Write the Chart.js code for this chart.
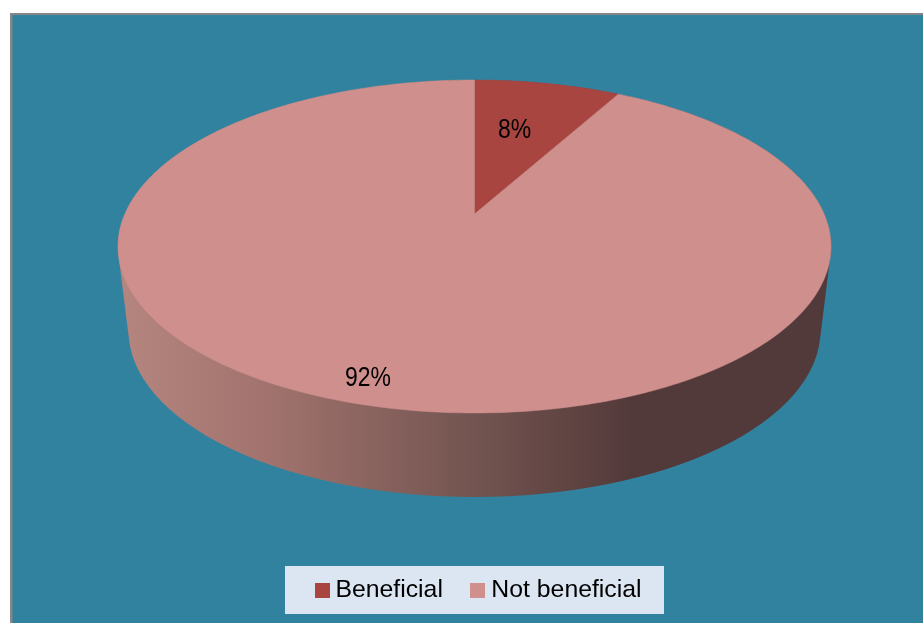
<!DOCTYPE html>
<html><head><meta charset="utf-8">
<style>html,body{margin:0;padding:0;background:#fff;overflow:hidden}canvas{display:block}</style>
<script src="https://cdn.jsdelivr.net/npm/chart.js@4"></script>
</head><body><canvas id="c" width="923" height="623"></canvas>
<script>
const categories = ['Beneficial', 'Not beneficial'];
const shares = [8, 92];
const shareLabels = ['8%', '92%'];
const sliceColors = ['#A84541', '#CE8F8D'];
const labelAnchors = [[514.5, 130.5], [368, 379]];

const FONT = '"Liberation Sans", Arial, sans-serif';
const LABEL_FONT = '27px "Liberation Sans", sans-serif';
const labelNarrow = 0.85;
const area = {left: 118, right: 831, top: 80, bottom: 413};
const legendBox = {left: 285, right: 664, top: 566, bottom: 614};
const legendStartX = 304, legendCenterY = 590.5, legendPadding = 34;
const apexLift = 32.5, aspect = 356.5 / 166.5;
const wallRim = {cy: 330.5, rx: 346, ry: 166.5};

// Perspective view of the pie's disc: (u, v) on the unit disc, v pointing away.
function project(el, u, v) {
  const R = el.outerRadius, top = el.y - R, bottom = el.y + R, apex = el.y - apexLift;
  const k = ((bottom - apex) - (apex - top)) / (bottom - top);
  const s = apex - top * (1 + k);
  const a = R * aspect * Math.sqrt(1 - k * k);
  const d = 1 + k * v;
  return [el.x + a * u / d, (apex - s * v) / d];
}

const marker = c => {
  const cv = document.createElement('canvas');
  cv.width = cv.height = 15;
  const x = cv.getContext('2d');
  x.fillStyle = c; x.fillRect(0, 0, 15, 15);
  return cv;
};

const pie3d = {
  id: 'pie3d',
  beforeDraw(chart) {
    const {ctx} = chart;
    ctx.save();
    ctx.fillStyle = '#868686'; ctx.fillRect(10, 13, 913, 610);
    ctx.fillStyle = '#31829E'; ctx.fillRect(12.5, 15, 911, 608);
    ctx.fillStyle = '#DCE6F2';
    ctx.fillRect(legendBox.left, legendBox.top, legendBox.right - legendBox.left, legendBox.bottom - legendBox.top);
    ctx.restore();
  },
  afterLayout(chart) {
    Object.assign(chart.chartArea, area, {width: area.right - area.left, height: area.bottom - area.top});
    const lg = chart.legend, lw = lg.lineWidths[0], size = lg.options.labels.font.size;
    lg.left = legendStartX - 20;
    lg.right = legendStartX + lw + 20;
    lg.top = legendCenterY - size * 0.5 - legendPadding;
    lg.bottom = lg.top + 100;
  },
  beforeDatasetDraw(chart, args) {
    const {ctx} = chart;
    const els = args.meta.data;
    const el0 = els[0];
    const R = el0.outerRadius, rx0 = R * aspect;
    ctx.save();
    const g = ctx.createLinearGradient(118, 0, 831, 0);
    g.addColorStop(0, '#B5857F');
    g.addColorStop(0.2, '#A3746F');
    g.addColorStop(0.5, '#735450');
    g.addColorStop(0.72, '#533A3A');
    g.addColorStop(1, '#533A3A');
    ctx.fillStyle = g;
    ctx.beginPath();
    const steps = 60;
    for (let i = 0; i <= steps; i++) {
      const t = i / steps;
      const cy = el0.y + (wallRim.cy - el0.y) * t;
      const rx = rx0 + (wallRim.rx - rx0) * t;
      const ry = R + (wallRim.ry - R) * t;
      ctx.moveTo(el0.x + rx, cy);
      ctx.ellipse(el0.x, cy, rx, ry, 0, 0, Math.PI * 2);
    }
    ctx.fill();
    els.forEach(el => {
      const p = el.getProps(['startAngle', 'endAngle']);
      const a0 = p.startAngle, a1 = p.endAngle, n = 360 * (a1 - a0) / (2 * Math.PI) + 2 | 0;
      ctx.beginPath();
      const c = project(el, 0, 0);
      ctx.moveTo(c[0], c[1]);
      for (let j = 0; j <= n; j++) {
        const a = a0 + (a1 - a0) * j / n;
        const q = project(el, Math.cos(a), -Math.sin(a));
        ctx.lineTo(q[0], q[1]);
      }
      ctx.closePath();
      ctx.fillStyle = el.options.backgroundColor;
      ctx.fill();
      ctx.strokeStyle = el.options.backgroundColor;
      ctx.lineWidth = 0.5;
      ctx.stroke();
    });
    ctx.restore();
    return false;
  },
  afterDatasetsDraw(chart) {
    const {ctx} = chart;
    ctx.fillStyle = '#000';
    ctx.font = LABEL_FONT;
    ctx.textAlign = 'center';
    ctx.textBaseline = 'middle';
    shareLabels.forEach((t, i) => {
      ctx.save();
      ctx.translate(labelAnchors[i][0], labelAnchors[i][1]);
      ctx.scale(labelNarrow, 1);
      ctx.fillText(t, 0, 0);
      ctx.restore();
    });
  }
};

new Chart(document.getElementById('c'), {
  type: 'pie',
  data: {labels: categories, datasets: [{data: shares, backgroundColor: sliceColors, borderWidth: 0}]},
  plugins: [pie3d],
  options: {
    responsive: false, animation: false, devicePixelRatio: 1,
    plugins: {
      tooltip: {enabled: false},
      legend: {
        position: 'bottom',
        labels: {
          color: '#000', font: {family: FONT, size: 24.8},
          usePointStyle: true, boxWidth: 2, boxHeight: 15, padding: legendPadding,
          generateLabels: () => categories.map((t, i) => ({
            text: t, fillStyle: sliceColors[i], strokeStyle: sliceColors[i], lineWidth: 0,
            pointStyle: marker(sliceColors[i]), fontColor: '#000', index: i
          }))
        }
      }
    }
  }
});
</script></body></html>
